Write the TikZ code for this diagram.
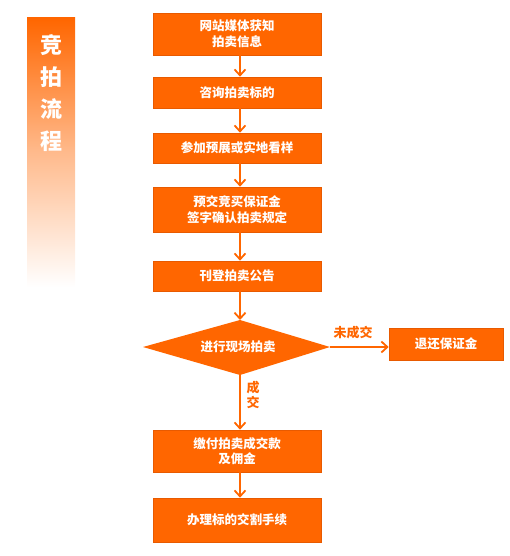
\documentclass[tikz,border=0pt]{standalone}
\usepackage{fontspec}
\setmainfont{Noto Sans CJK SC}
\usetikzlibrary{arrows.meta,shapes.geometric}
\definecolor{og}{HTML}{FF6600}
\definecolor{ogd}{HTML}{E85A00}
\tikzset{
  box/.style={draw=ogd,line width=0.6pt,fill=og,text=white,font=\fontsize{12.5}{15.5}\selectfont\bfseries,align=center,inner sep=0pt},
  flow/.style={draw=og,line width=2pt,-{Straight Barb[length=6pt,width=11pt,line width=1.8pt]}},
  lbl/.style={text=og,font=\fontsize{13}{15}\selectfont\bfseries,inner sep=0pt}
}
\begin{document}
\begin{tikzpicture}[x=1pt,y=-1pt]
\useasboundingbox (0,0) rectangle (510,556);
% banner
\shade[top color=og,bottom color=white,middle color=og!45] (27,18) rectangle (75,287);
\node[text=white,font=\fontsize{22}{26}\selectfont\bfseries,align=center,inner sep=0pt] (title) at (51,93) {竞\\[6pt]拍\\[6pt]流\\[6pt]程};
% boxes
\node[box,minimum width=168pt,minimum height=42pt] (b1) at (237,34) {网站媒体获知\\拍卖信息};
\node[box,minimum width=168pt,minimum height=31pt] (b2) at (237,92.5) {咨询拍卖标的};
\node[box,minimum width=168pt,minimum height=30pt] (b3) at (237,148) {参加预展或实地看样};
\node[box,minimum width=168pt,minimum height=45pt] (b4) at (237,209.5) {预交竞买保证金\\签字确认拍卖规定};
\node[box,minimum width=168pt,minimum height=30pt] (b5) at (237,276) {刊登拍卖公告};
% diamond
\coordinate (dn) at (240,320);
\coordinate (ds) at (240,375);
\coordinate (de) at (330,347);
\coordinate (dw) at (143,347);
\fill[og] (dn) -- (de) -- (ds) -- (dw) -- cycle;
\node[text=white,font=\fontsize{12.5}{15}\selectfont\bfseries,inner sep=0pt] (d) at (238,347) {进行现场拍卖};
\node[box,minimum width=114pt,minimum height=32pt] (r) at (446,344) {退还保证金};
\node[box,minimum width=168pt,minimum height=42pt] (b6) at (237,451) {缴付拍卖成交款\\及佣金};
\node[box,minimum width=168pt,minimum height=44pt] (b7) at (237,520) {办理标的交割手续};
% arrows
\draw[flow] (b1.south -| dn) -- (b2.north -| dn);
\draw[flow] (b2.south -| dn) -- (b3.north -| dn);
\draw[flow] (b3.south -| dn) -- (b4.north -| dn);
\draw[flow] (b4.south -| dn) -- (b5.north -| dn);
\draw[flow] (b5.south -| dn) -- (dn);
\draw[flow] (de) -- (de -| r.west);
\draw[flow] (ds) -- (b6.north -| ds);
\draw[flow] (b6.south -| ds) -- (b7.north -| ds);
\node[lbl] (l1) at (353,333) {未成交};
\node[lbl,align=center] (l2) at (253,395) {成\\交};
\end{tikzpicture}
\end{document}
